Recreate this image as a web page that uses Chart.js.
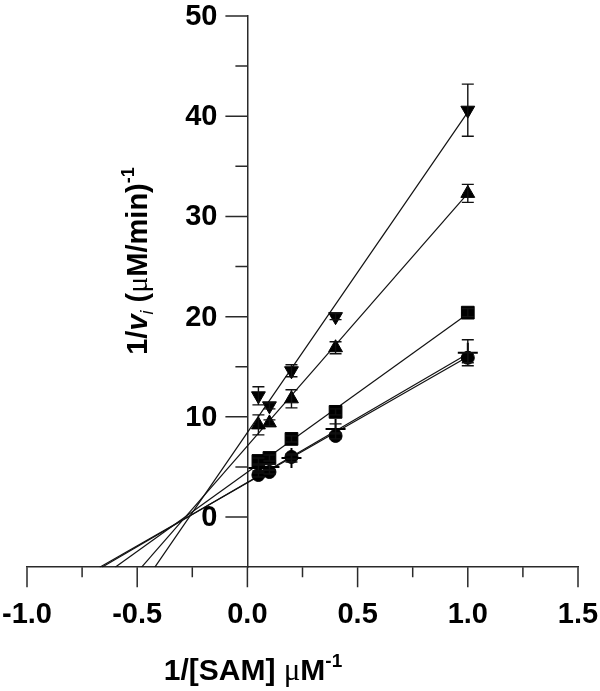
<!DOCTYPE html>
<html>
<head>
<meta charset="utf-8">
<script src="https://cdn.jsdelivr.net/npm/chart.js@4"></script>
<style>
  body { margin: 0; background: #fff; }
  canvas { display: block; }
</style>
</head>
<body>
<canvas id="kinetics" width="600" height="691"></canvas>
<script>
// inverse substrate concentration, 1/[SAM]
const invSAM = [0.05, 0.1, 0.2, 0.4, 1.0];

// 1/vi values for each series, with error bars
const downTri = [12.1, 11.1, 14.6, 20.0, 40.6];
const downTriErr = [0.9, 0.3, 0.6, 0.3, 2.6];
const upTri = [9.2, 9.4, 11.8, 16.9, 32.3];
const upTriErr = [1.0, 0.3, 0.9, 0.6, 0.9];
const squares = [5.6, 5.9, 7.8, 10.5, 20.4];
const squaresErr = [0.3, 0.3, 0.3, 0.3, 0.4];
const circles = [4.2, 4.5, 6.0, 8.1, 15.9];
const circlesErr = [0.2, 0.2, 0.2, 0.3, 0.5];
const crosses = [4.9, 5.0, 5.9, 8.8, 16.4];
const crossesErr = [0.3, 0.3, 0.4, 0.5, 1.3];

// fitted lines, from the bottom of the plot out to 1/[SAM] = 1
const fitX = {
  downTri: [-0.42, 1.0],
  upTri: [-0.48, 1.0],
  squares: [-0.60, 1.0],
  circles: [-0.67, 1.0],
  crosses: [-0.66, 1.0]
};
const fitY = {
  downTri: [-5, 40.4],
  upTri: [-5, 32.3],
  squares: [-5, 20.3],
  circles: [-5, 16.0],
  crosses: [-5, 16.3]
};

// axis ticks
const xMajor = [-1.0, -0.5, 0.0, 0.5, 1.0, 1.5];
const xMinor = [-0.75, -0.25, 0.25, 0.75, 1.25];
const yMajor = [0, 10, 20, 30, 40, 50];
const yMinor = [5, 15, 25, 35, 45];

const FONT = "'Liberation Sans', Arial, sans-serif";
const AXIS = '#2a2a2a';

function pts(xs, ys) {
  return xs.map((v, i) => ({x: v, y: ys[i]}));
}

function fitLine(key) {
  return {
    type: 'line',
    data: pts(fitX[key], fitY[key]),
    borderColor: '#111',
    borderWidth: 1.2,
    pointRadius: 0,
    fill: false,
    order: 2
  };
}

function series(label, ys, errs, style) {
  return Object.assign({
    type: 'scatter',
    label: label,
    data: pts(invSAM, ys),
    errors: errs,
    backgroundColor: '#000',
    borderColor: '#000',
    borderWidth: 1,
    order: 1
  }, style);
}

// error bars drawn through the scales
const errorBars = {
  id: 'errorBars',
  afterDatasetsDraw(chart) {
    const {ctx, scales: {x, y}} = chart;
    ctx.save();
    ctx.strokeStyle = '#111';
    ctx.lineWidth = 1.4;
    chart.data.datasets.forEach(ds => {
      if (!ds.errors) return;
      ds.data.forEach((p, i) => {
        const e = ds.errors[i];
        const px = x.getPixelForValue(p.x);
        const top = y.getPixelForValue(p.y + e);
        const bot = y.getPixelForValue(p.y - e);
        ctx.beginPath();
        ctx.moveTo(px, top); ctx.lineTo(px, bot);
        ctx.moveTo(px - 6, top); ctx.lineTo(px + 6, top);
        ctx.moveTo(px - 6, bot); ctx.lineTo(px + 6, bot);
        ctx.stroke();
      });
    });
    ctx.restore();
  }
};

// draws mixed-style text pieces in a row, centred on (cx, cy)
function drawRich(ctx, parts, cx, cy) {
  let w = 0;
  parts.forEach(p => { ctx.font = p.f; w += ctx.measureText(p.t).width; });
  let cur = cx - w / 2;
  ctx.textBaseline = 'alphabetic';
  ctx.textAlign = 'left';
  parts.forEach(p => {
    ctx.font = p.f;
    ctx.fillText(p.t, cur, cy + (p.dy || 0));
    cur += ctx.measureText(p.t).width;
  });
}

const axisDecor = {
  id: 'axisDecor',
  afterDraw(chart) {
    const {ctx, scales: {x, y}} = chart;
    const baseY = y.getPixelForValue(-5);
    const baseX = x.getPixelForValue(0);
    ctx.save();
    ctx.strokeStyle = AXIS;
    ctx.lineWidth = 1.5;
    ctx.beginPath();
    xMajor.forEach(v => { const p = x.getPixelForValue(v); ctx.moveTo(p, baseY); ctx.lineTo(p, baseY + 20); });
    xMinor.forEach(v => { const p = x.getPixelForValue(v); ctx.moveTo(p, baseY); ctx.lineTo(p, baseY + 10); });
    yMajor.forEach(v => { const p = y.getPixelForValue(v); ctx.moveTo(baseX, p); ctx.lineTo(baseX - 22, p); });
    yMinor.forEach(v => { const p = y.getPixelForValue(v); ctx.moveTo(baseX, p); ctx.lineTo(baseX - 12, p); });
    ctx.stroke();

    ctx.fillStyle = '#000';
    // y tick labels, to the left of the axis that sits at x = 0
    ctx.font = 'bold 29px ' + FONT;
    ctx.textAlign = 'right';
    ctx.textBaseline = 'middle';
    yMajor.forEach(v => ctx.fillText(String(v), baseX - 30, y.getPixelForValue(v) + 1));

    // x title
    drawRich(ctx, [
      {t: '1/[SAM] ', f: 'bold 30px ' + FONT},
      {t: 'μ', f: "31px 'Liberation Serif', serif"},
      {t: 'M', f: 'bold 30px ' + FONT},
      {t: '-1', f: 'bold 19px ' + FONT, dy: -13}
    ], 253, 680);

    // y title, rotated
    ctx.translate(147, 261);
    ctx.rotate(-Math.PI / 2);
    drawRich(ctx, [
      {t: '1/', f: 'bold 29px ' + FONT},
      {t: 'v', f: 'italic bold 29px ' + FONT},
      {t: 'i', f: 'italic 18px ' + FONT, dy: 6},
      {t: ' (', f: 'bold 29px ' + FONT},
      {t: 'μ', f: "30px 'Liberation Serif', serif"},
      {t: 'M/min)', f: 'bold 29px ' + FONT},
      {t: '-1', f: 'bold 18px ' + FONT, dy: -13}
    ], 0, 0);
    ctx.restore();
  }
};

new Chart(document.getElementById('kinetics').getContext('2d'), {
  data: {
    datasets: [
      fitLine('downTri'),
      fitLine('upTri'),
      fitLine('squares'),
      fitLine('circles'),
      fitLine('crosses'),
      series('down triangle', downTri, downTriErr, {pointStyle: 'triangle', rotation: 180, pointRadius: 8}),
      series('up triangle', upTri, upTriErr, {pointStyle: 'triangle', pointRadius: 8}),
      series('square', squares, squaresErr, {pointStyle: 'rect', pointRadius: 9}),
      series('circle', circles, circlesErr, {pointStyle: 'circle', pointRadius: 6.5}),
      series('cross', crosses, crossesErr, {pointStyle: 'cross', pointRadius: 10, borderWidth: 2})
    ]
  },
  options: {
    responsive: false,
    devicePixelRatio: 1,
    animation: false,
    layout: {padding: {left: 27, right: 22, top: 16, bottom: 29}},
    plugins: {legend: {display: false}, tooltip: {enabled: false}},
    scales: {
      x: {
        type: 'linear',
        position: 'bottom',
        min: -1.0,
        max: 1.5,
        afterBuildTicks: axis => { axis.ticks = xMajor.map(v => ({value: v})); },
        // end labels may hang past the plot edges, as in the original
        afterFit: axis => { axis.paddingLeft = 0; axis.paddingRight = 0; },
        ticks: {
          callback: v => v.toFixed(1),
          color: '#000',
          padding: 30,
          maxRotation: 0,
          font: {family: FONT, size: 29, weight: 'bold'}
        },
        grid: {display: false, drawTicks: false},
        border: {display: true, color: AXIS, width: 1.5}
      },
      y: {
        type: 'linear',
        position: {x: 0},
        min: -5,
        max: 50,
        afterBuildTicks: axis => { axis.ticks = yMajor.map(v => ({value: v})); },
        ticks: {display: false},
        grid: {display: false, drawTicks: false},
        border: {display: true, color: AXIS, width: 1.5}
      }
    }
  },
  plugins: [errorBars, axisDecor]
});
</script>
</body>
</html>
